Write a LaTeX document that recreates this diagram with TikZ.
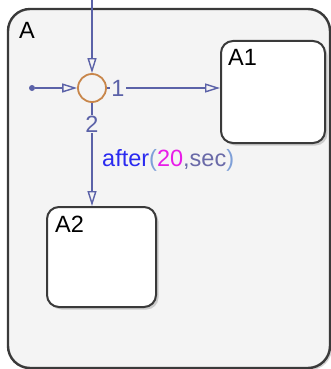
\documentclass[tikz,border=0pt]{standalone}
\usepackage{fontspec}
\setmainfont{Liberation Sans}
\usetikzlibrary{arrows.meta,shadows}
\definecolor{bg}{HTML}{F4F4F4}
\definecolor{trans}{HTML}{5B62A8}
\definecolor{junc}{HTML}{C8864A}
\definecolor{border}{HTML}{3A3A3A}
\definecolor{kwblue}{HTML}{2A2AF0}
\definecolor{paren}{HTML}{7FA0D8}
\definecolor{magenta2}{HTML}{E81CE8}
\definecolor{argc}{HTML}{6A6AA8}
\begin{document}
\begin{tikzpicture}[x=1pt,y=-1pt,
  statebox/.style={draw=border, line width=2pt, rectangle, rounded corners=#1, inner sep=0pt},
  transline/.style={draw=trans, line width=1.6pt},
  tip/.style={-{Triangle[open, length=15pt, width=9pt, fill=bg, line width=1.4pt]}},
  lbl/.style={font=\fontsize{23.5}{26}\selectfont, inner sep=0pt},
  tlbl/.style={font=\fontsize{23.5}{26}\selectfont, inner sep=1pt, text=trans, fill=bg}]
\useasboundingbox (0,0) rectangle (331,369);
\fill[white] (0,0) rectangle (331,369);
% outer state A
\node[statebox=22pt, line width=2.4pt, fill=bg, minimum width=322pt, minimum height=359pt,
      drop shadow={shadow xshift=2pt, shadow yshift=-2pt, opacity=0.35}] (A) at (169,188.5) {};
\node[lbl, anchor=base west] (Alab) at (19,38) {A};
% A1
\node[statebox=12pt, fill=white, minimum width=104pt, minimum height=102pt,
      drop shadow={shadow xshift=2.5pt, shadow yshift=-2.5pt, opacity=0.35}] (A1) at (273,92) {};
\node[lbl, anchor=base west] (A1lab) at (228,65) {A1};
% A2
\node[statebox=12pt, fill=white, minimum width=109pt, minimum height=100pt,
      drop shadow={shadow xshift=2.5pt, shadow yshift=-2.5pt, opacity=0.35}] (A2) at (101.5,257) {};
\node[lbl, anchor=base west] (A2lab) at (55,232) {A2};
% junction
\node[circle, draw=junc, line width=1.8pt, minimum size=28pt, inner sep=0pt] (J) at (92,88) {};
% default transition
\node[circle, fill=trans, minimum size=6pt, inner sep=0pt] (D) at (32,88) {};
\coordinate (T) at (92,0);
\draw[transline, tip] (T) -- (J.north);
\draw[transline, tip] (D) -- (J.west);
\draw[transline, tip] (J.east) -- (J.east -| A1.west);
\draw[transline, tip] (J.south) -- (J.south |- A2.north);
% transition labels
\node[tlbl] (L1) at (118,88) {1};
\node[tlbl] (L2) at (92,124) {2};
\node[lbl, anchor=base west] (cond) at (102,166) {\textcolor{kwblue}{after}\textcolor{paren}{(}\textcolor{magenta2}{20}\textcolor{argc}{,sec}\textcolor{paren}{)}};
\end{tikzpicture}
\end{document}
